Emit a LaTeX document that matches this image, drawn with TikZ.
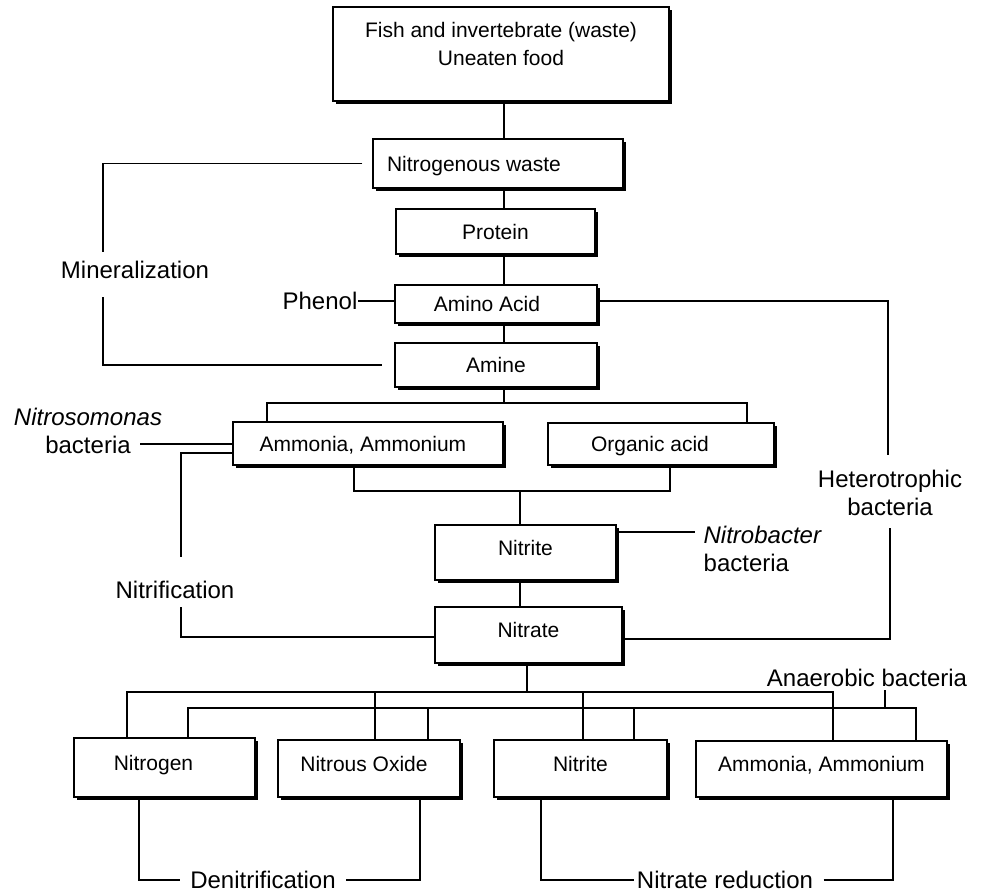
\documentclass[tikz,border=0pt]{standalone}
\usepackage{fontspec}
\setmainfont{Liberation Sans}
\usetikzlibrary{shadows}
\newcommand{\boxfont}{\fontsize{21}{28}\selectfont}
\newcommand{\lblfont}{\fontsize{24}{28}\selectfont}
\begin{document}
\begin{tikzpicture}[x=1pt,y=-1pt,
  line width=1.3pt,
  chembox/.style={draw, fill=white, line width=1.3pt, inner sep=0pt, font=\boxfont,
    text height=15pt, text depth=0pt,
    drop shadow={shadow xshift=2.8pt, shadow yshift=-2.8pt, fill=black, opacity=1}},
  liftup/.style={text depth=10pt},
  lbl/.style={font=\lblfont, inner sep=0pt, align=center},
]
\useasboundingbox (0,0) rectangle (994,892);

% ---- boxes ----
\node[chembox, minimum width=336pt, minimum height=94pt,
  label={[name=toptxt, anchor=north, align=center, yshift=-15pt, font=\boxfont, inner sep=0pt]north:Fish and invertebrate (waste)\\Uneaten food}]
  (top) at (501,54) {};
\node[chembox, minimum width=250pt, minimum height=49pt] (nw) at (498,163.5) {Nitrogenous waste\kern48pt};
\node[chembox, minimum width=199pt, minimum height=45pt] (prot) at (495.5,231.5) {Protein};
\node[chembox, minimum width=202pt, minimum height=38pt] (amino) at (496,304) {Amino Acid\kern18pt};
\node[chembox, minimum width=202pt, minimum height=44pt] (amine) at (496,365) {Amine};
\node[chembox, minimum width=270pt, minimum height=43pt] (amm) at (368,443.5) {Ammonia, Ammonium\kern10pt};
\node[chembox, minimum width=226pt, minimum height=42pt] (org) at (661,444) {Organic acid\kern22pt};
\node[chembox, liftup, minimum width=181pt, minimum height=55pt] (nitrite) at (525.5,552.5) {Nitrite};
\node[chembox, liftup, minimum width=187pt, minimum height=56pt] (nitrate) at (528.5,635) {Nitrate};
\node[chembox, liftup, minimum width=181pt, minimum height=59pt] (n2) at (164.5,767.5) {Nitrogen\kern22pt};
\node[chembox, liftup, minimum width=182pt, minimum height=57pt] (n2o) at (369,768.5) {Nitrous Oxide\kern10pt};
\node[chembox, liftup, minimum width=173pt, minimum height=57pt] (nitrite2) at (580.5,768.5) {Nitrite};
\node[chembox, liftup, minimum width=251pt, minimum height=56pt] (amm2) at (821.5,769) {Ammonia, Ammonium};

% ---- labels ----
\node[lbl] (mineral) at (135,270) {Mineralization};
\node[lbl, anchor=east] (phenol) at (358,301) {Phenol};
\node[lbl] (nitroso) at (88,431) {\textit{Nitrosomonas}\\bacteria};
\node[lbl] (nitrif) at (175,590) {Nitrification};
\node[lbl] (hetero) at (890,493) {Heterotrophic\\bacteria};
\node[lbl, anchor=west, align=left] (nitrob) at (703,549) {\textit{Nitrobacter}\\bacteria};
\node[lbl, inner sep=3pt] (anaer) at (867,678) {Anaerobic bacteria};
\node[lbl, inner xsep=10pt] (denit) at (263,880) {Denitrification};
\node[lbl, inner xsep=2pt] (nred) at (725,880) {Nitrate reduction};

% ---- coordinates ----
\coordinate (cx) at (504,0);
\coordinate (m2) at (103,252);
\coordinate (m3) at (103,297);
\coordinate (s1) at (504,403);
\coordinate (a1) at (267,403);
\coordinate (a2) at (747,403);
\coordinate (b1) at (354,491);
\coordinate (b2) at (670,491);
\coordinate (b3) at (520,491);
\coordinate (c1) at (520,0);
\coordinate (nsb) at (140,444);
\coordinate (nf1) at (181,453);
\coordinate (nf2) at (181,557);
\coordinate (nf3) at (181,607);
\coordinate (h1) at (888,455);
\coordinate (h2) at (890,528);
\coordinate (nb) at (695,532);
\coordinate (t0) at (527,692);
\coordinate (p1) at (127,692);
\coordinate (p2) at (375,692);
\coordinate (p3) at (583,692);
\coordinate (p4) at (833,692);
\coordinate (q1) at (188,708);
\coordinate (q2) at (428,708);
\coordinate (q3) at (634,708);
\coordinate (q4) at (916,708);
\coordinate (an) at (885,708);
\coordinate (d1) at (139,880);
\coordinate (d2) at (420,880);
\coordinate (r1) at (541,880);
\coordinate (r2) at (893,880);

% ---- main chain ----
\draw (top.south -| cx) -- (nw.north -| cx);
\draw (nw.south -| cx) -- (prot.north -| cx);
\draw (prot.south -| cx) -- (amino.north -| cx);
\draw (amino.south -| cx) -- (amine.north -| cx);
\draw (amine.south -| s1) -- (s1);
\draw (amm.north -| a1) -- (a1) -- (a2) -- (org.north -| a2);
\draw (amm.south -| b1) -- (b1) -- (b2) -- (org.south -| b2);
\draw (b3) -- (nitrite.north -| b3);
\draw (nitrite.south -| c1) -- (nitrate.north -| c1);

% ---- mineralization bracket ----
\draw ([xshift=-10pt]nw.west) -| (m2);
\draw (m3) |- ([xshift=-12pt]amine.west);

% ---- phenol ----
\draw (phenol.east) -- (phenol.east -| amino.west);

% ---- nitrosomonas / nitrification ----
\draw (nsb) -- (nsb -| amm.west);
\draw (nf1 -| amm.west) -- (nf1) -- (nf2);
\draw (nf3) |- ([yshift=-2pt]nitrate.west);

% ---- heterotrophic ----
\draw ([yshift=3pt]amino.east) -| (h1);
\draw (h2) |- ([yshift=-4pt]nitrate.east);

% ---- nitrobacter ----
\draw (nb -| nitrite.east) -- (nb);

% ---- nitrate split ----
\draw (nitrate.south -| t0) -- (t0);
\draw (n2.north -| p1) -- (p1) -- (p4) -- (amm2.north -| p4);
\draw (p2) -- (n2o.north -| p2);
\draw (p3) -- (nitrite2.north -| p3);
\draw (n2.north -| q1) -- (q1) -- (q4) -- (amm2.north -| q4);
\draw (q2) -- (n2o.north -| q2);
\draw (q3) -- (nitrite2.north -| q3);
\draw (an) -- (an |- anaer.south);

% ---- denitrification / nitrate reduction ----
\draw (n2.south -| d1) -- (d1) -- (denit.west);
\draw (denit.east) -- (d2) -- (n2o.south -| d2);
\draw (nitrite2.south -| r1) -- (r1) -- (nred.west);
\draw ([xshift=8pt]nred.east) -- (r2) -- (amm2.south -| r2);
\end{tikzpicture}
\end{document}
